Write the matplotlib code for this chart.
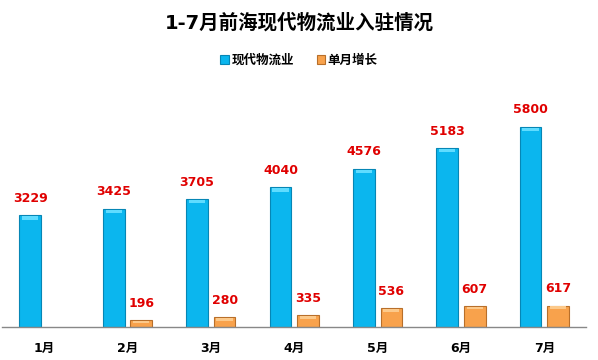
import matplotlib.pyplot as plt
import numpy as np

plt.rcParams['font.family'] = ['DejaVu Sans', 'Noto Sans CJK SC']

months = ['1月', '2月', '3月', '4月', '5月', '6月', '7月']
total = [3229, 3425, 3705, 4040, 4576, 5183, 5800]
monthly = [None, 196, 280, 335, 536, 607, 617]

blue = '#0BB6EE'
blue_edge = '#0686B5'
orange = '#F8A24C'
orange_edge = '#B86F2A'

fig = plt.figure(figsize=(5.98, 3.6), dpi=100)
ax = fig.add_axes([0.004, 0.092, 0.976, 0.633])

x = np.arange(len(months))
w = 0.26
off = 0.165

b1 = ax.bar(x - off, total, w, color=blue, edgecolor=blue_edge, linewidth=0.8,
            label='现代物流业', zorder=2)
mx = [i for i, v in enumerate(monthly) if v is not None]
mv = [v for v in monthly if v is not None]
b2 = ax.bar(np.array(mx) + off, mv, w, color=orange, edgecolor=orange_edge, linewidth=0.8,
            label='单月增长', zorder=2)

# bevel highlight on bar tops
for i, v in enumerate(total):
    ax.bar(i - off, 90, w * 0.75, bottom=v - 120, color='#5FDCFF', linewidth=0, zorder=3)
for i, v in zip(mx, mv):
    ax.bar(i + off, min(80, v * 0.3), w * 0.75, bottom=v - min(100, v * 0.42),
           color='#FCC98A', linewidth=0, zorder=3)

for i, v in enumerate(total):
    ax.annotate(str(v), (i - off, v), xytext=(0, 7.5), textcoords='offset points',
                ha='center', va='bottom', color='#E00000', fontsize=9, fontweight='bold')
for i, v in zip(mx, mv):
    ax.annotate(str(v), (i + off, v), xytext=(0, 7.5), textcoords='offset points',
                ha='center', va='bottom', color='#E00000', fontsize=9, fontweight='bold')

ax.set_xlim(-0.5, 6.5)
ax.set_ylim(0, 6600)
ax.set_xticks(x)
ax.set_xticklabels(months, fontsize=9, fontweight='bold')
ax.tick_params(axis='x', length=0, pad=11)
ax.set_yticks([])
for s in ['top', 'right', 'left']:
    ax.spines[s].set_visible(False)
ax.spines['bottom'].set_color('#888888')
ax.spines['bottom'].set_linewidth(1)

fig.text(0.5, 0.938, '1-7月前海现代物流业入驻情况', ha='center', va='center',
         fontsize=14, fontweight='bold')
fig.legend(handles=[b1, b2], loc='center', bbox_to_anchor=(0.5, 0.833), ncol=2,
           frameon=False, handlelength=0.7, handleheight=0.7,
           handletextpad=0.2, columnspacing=1.8,
           prop={'weight': 'bold', 'size': 9})

fig.savefig('out.png', dpi=100)
